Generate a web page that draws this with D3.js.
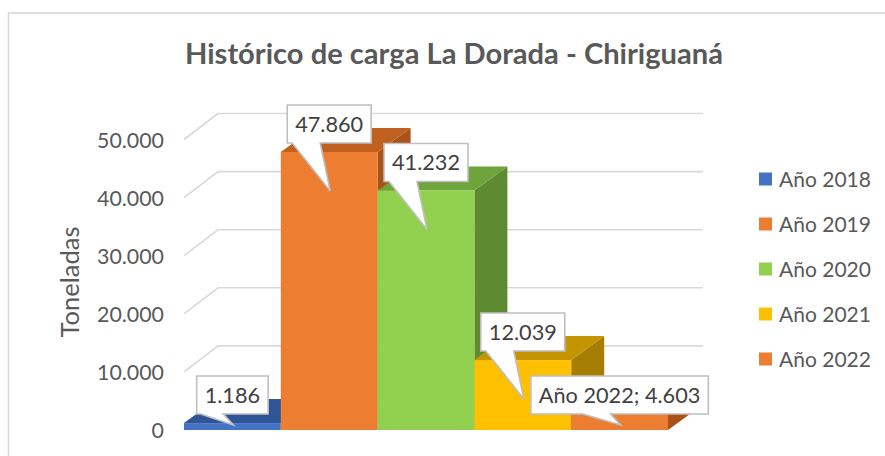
<!DOCTYPE html>
<html>
<head>
<meta charset="utf-8">
<script src="https://cdn.jsdelivr.net/npm/d3@7"></script>
<style>
  html, body { margin: 0; padding: 0; background: #ffffff; }
  svg { display: block; }
</style>
</head>
<body>
<svg id="chart" width="885" height="456"></svg>
<script>
// ---------------- data ----------------
const chartTitle = "Histórico de carga La Dorada - Chiriguaná";
const axisTitle = "Toneladas";
const seriesNames = ["Año 2018", "Año 2019", "Año 2020", "Año 2021", "Año 2022"];
const seriesValues = [1186, 47860, 41232, 12039, 4603];
const labelWithSeriesName = [false, false, false, false, true];
const yTickValues = [0, 10000, 20000, 30000, 40000, 50000];

// ---------------- styles ----------------
const frontColors = ["#4472C4", "#ED7D31", "#92D050", "#FFC000", "#ED7D31"];
const topColors   = ["#2F5597", "#C0601F", "#6FA33B", "#C49500", "#C0601F"];
const sideColors  = ["#2A4D8C", "#A9521A", "#5E8A31", "#A57D00", "#A9521A"];
const FONT = "Lato, 'Open Sans', 'Noto Sans', sans-serif";

const svg = d3.select("#chart");
const W = 885, H = 456;

const locale = d3.formatLocale({ decimal: ",", thousands: ".", grouping: [3], currency: ["", ""] });
const fmt = locale.format(",d");

// fit helper: scale font size so that a text reaches a target width
function fitGroup(sel, sampleNode, target) {
  const w = sampleNode.getComputedTextLength();
  const fs = parseFloat(d3.select(sampleNode).attr("font-size"));
  const nfs = fs * target / w;
  sel.attr("font-size", nfs);
  return nfs;
}

// chart frame
svg.append("rect")
  .attr("x", 8.5).attr("y", 13)
  .attr("width", 1000).attr("height", 1000)
  .attr("fill", "#ffffff")
  .attr("stroke", "#D9D9D9").attr("stroke-width", 1.6);

// title
const titleText = svg.append("text")
  .attr("x", 454).attr("y", 64)
  .attr("text-anchor", "middle")
  .attr("font-family", FONT).attr("font-weight", 700)
  .attr("font-size", 26).attr("fill", "#595959")
  .text(chartTitle);
fitGroup(titleText, titleText.node(), 538);

// scales
const baseY = 430;
const y = d3.scaleLinear().domain([0, 50000]).range([baseY, 139.5]);
const x = d3.scaleBand().domain(seriesNames).range([184, 668]).padding(0);
const wallDx = 34, wallDy = -26;   // depth of back wall
const barDx = 33, barDy = -24;     // depth of bars
const wallRight = 703;

// gridlines (floor-to-wall diagonal + back wall horizontal)
const grid = svg.append("g");
yTickValues.forEach(t => {
  const yf = y(t);
  grid.append("path")
    .attr("d", `M${x.range()[0]},${yf} L${x.range()[0] + wallDx},${yf + wallDy} L${wallRight},${yf + wallDy}`)
    .attr("fill", "none")
    .attr("stroke", "#D9D9D9").attr("stroke-width", 1.6);
});

// y axis labels
const yAxis = svg.append("g")
  .attr("transform", `translate(${x.range()[0]},0)`)
  .call(d3.axisLeft(y).tickValues(yTickValues).tickSize(0).tickPadding(20).tickFormat(fmt));
yAxis.select(".domain").remove();
const yLabels = yAxis.selectAll("text")
  .attr("font-family", FONT).attr("font-size", 18).attr("fill", "#595959")
  .attr("dy", "0.36em");
fitGroup(yLabels, yLabels.nodes()[yLabels.size() - 1], 67);

// axis title
const axT = svg.append("text")
  .attr("transform", "translate(79,282) rotate(-90)")
  .attr("text-anchor", "middle")
  .attr("font-family", FONT).attr("font-size", 20).attr("fill", "#595959")
  .text(axisTitle);
fitGroup(axT, axT.node(), 111);

// bars
const bars = svg.append("g");
seriesNames.forEach((name, i) => {
  const x0 = x(name), x1 = x0 + x.bandwidth();
  const yt = y(seriesValues[i]);
  const g = bars.append("g");
  g.append("path")
    .attr("d", `M${x1},${yt} L${x1 + barDx},${yt + barDy} L${x1 + barDx},${baseY + barDy} L${x1},${baseY} Z`)
    .attr("fill", sideColors[i]);
  g.append("path")
    .attr("d", `M${x0},${yt} L${x1},${yt} L${x1 + barDx},${yt + barDy} L${x0 + barDx},${yt + barDy} Z`)
    .attr("fill", topColors[i]);
  g.append("rect")
    .attr("x", x0).attr("y", yt)
    .attr("width", x.bandwidth()).attr("height", baseY - yt)
    .attr("fill", frontColors[i]);
});

// data callouts
const callouts = svg.append("g");
const labelTexts = seriesNames.map((n, i) => labelWithSeriesName[i] ? `${n}; ${fmt(seriesValues[i])}` : fmt(seriesValues[i]));
const tmp = callouts.append("text")
  .attr("font-family", FONT).attr("font-size", 18).text(labelTexts[1]);
const calloutFs = 18 * 68 / tmp.node().getComputedTextLength();
tmp.remove();

seriesNames.forEach((name, i) => {
  const cx = x(name) + x.bandwidth() / 2;
  const yt = y(seriesValues[i]);
  let boxBottom, tipY;
  if (baseY - yt < 30) { boxBottom = baseY - 16; tipY = baseY - 5; }
  else { boxBottom = yt - 9; tipY = yt + 39; }
  const tipX = cx + 1;
  const t = callouts.append("text")
    .attr("font-family", FONT).attr("font-size", calloutFs)
    .attr("fill", "#404040").attr("text-anchor", "middle")
    .text(labelTexts[i]);
  const tw = t.node().getComputedTextLength();
  const bw = tw + 16, bh = 38;
  const bx0 = cx - bw / 2, bx1 = cx + bw / 2, by0 = boxBottom - bh;
  const b0 = Math.max(bx0 + 4, tipX - 38), b1 = tipX - 10;
  callouts.insert("path", () => t.node())
    .attr("d", `M${bx0},${by0} L${bx1},${by0} L${bx1},${boxBottom} L${b1},${boxBottom} L${tipX},${tipY} L${b0},${boxBottom} L${bx0},${boxBottom} Z`)
    .attr("fill", "#ffffff")
    .attr("stroke", "#BFBFBF").attr("stroke-width", 1.6)
    .attr("stroke-linejoin", "miter");
  t.attr("x", cx).attr("y", boxBottom - bh / 2).attr("dy", "0.36em");
});

// legend
const legend = svg.append("g");
const legendRows = seriesNames.map((n, i) => 179 + i * 45);
seriesNames.forEach((name, i) => {
  const ly = legendRows[i];
  legend.append("rect")
    .attr("x", 759).attr("y", ly - 6.5)
    .attr("width", 13).attr("height", 13)
    .attr("fill", frontColors[i]);
  legend.append("text")
    .attr("class", "lg")
    .attr("x", 779).attr("y", ly).attr("dy", "0.36em")
    .attr("font-family", FONT).attr("font-size", 19).attr("fill", "#595959")
    .text(name);
});
const lg = legend.selectAll("text.lg");
fitGroup(lg, lg.nodes()[0], 92);
</script>
</body>
</html>
